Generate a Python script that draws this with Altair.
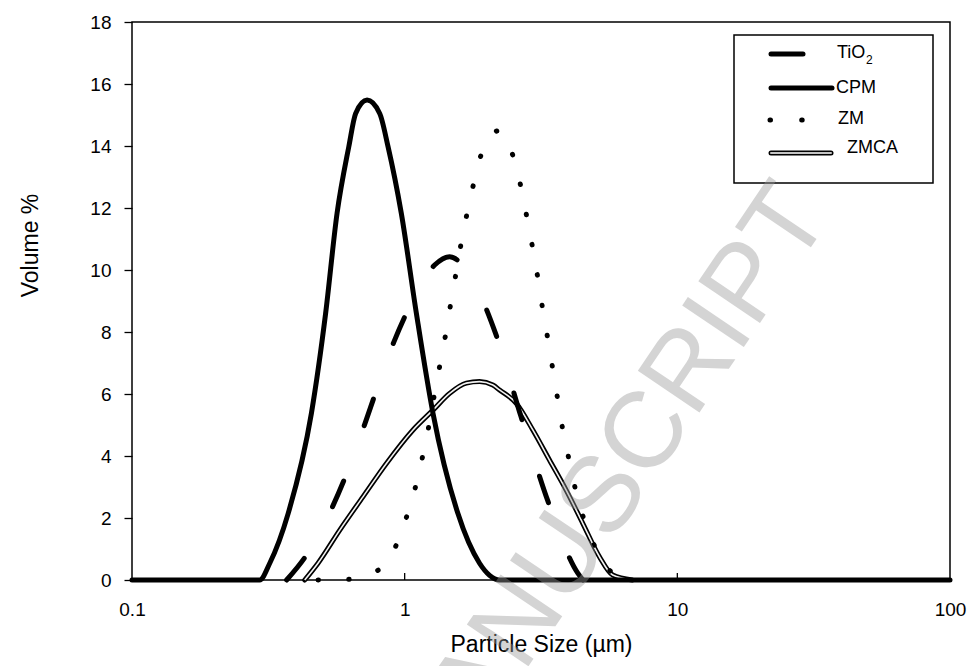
import altair as alt
import pandas as pd

# ---- data ----
cpm_x = [0.1, 0.294, 0.320, 0.374, 0.455, 0.513, 0.565, 0.624, 0.661, 0.728, 0.810,
         0.869, 0.972, 1.104, 1.27, 1.567, 1.882, 2.048, 2.228, 100]
cpm_y = [0, 0, 0.54, 2.15, 5.38, 8.60, 11.83, 13.98, 15.05, 15.48, 15.05,
         13.98, 11.83, 8.60, 5.38, 2.15, 0.54, 0.15, 0, 0]

tio_x = [0.369, 0.439, 0.546, 0.608, 0.714, 0.783, 0.914, 1.028, 1.288, 1.462, 1.683,
         2.151, 2.671, 3.35, 4.314, 4.507]
tio_y = [0, 0.84, 2.40, 3.36, 5.03, 6.05, 7.69, 8.71, 10.16, 10.43, 10.0,
         7.97, 5.27, 2.55, 0.22, 0]

zm_x = [0.481, 0.622, 0.794, 0.925, 1.014, 1.094, 1.161, 1.224, 1.281, 1.343, 1.41, 1.471,
        1.538, 1.608, 1.691, 1.789, 1.91, 2.204, 2.502, 2.667, 2.805, 2.944, 3.078, 3.204,
        3.35, 3.493, 3.644, 3.802, 4.012, 4.242, 4.564, 5.038, 5.877, 6.3]
zm_y = [0, 0.02, 0.30, 1.07, 2.01, 2.98, 3.95, 4.93, 5.91, 6.88, 7.87, 8.85,
        9.83, 10.82, 11.80, 12.77, 13.73, 14.49, 13.65, 12.69, 11.71, 10.73, 9.75, 8.76,
        7.77, 6.80, 5.81, 4.84, 3.86, 2.88, 1.91, 0.99, 0.16, 0]

zmca_x = [0.430, 0.481, 0.578, 0.704, 0.857, 1.073, 1.27, 1.462, 1.683, 1.882, 2.106,
          2.228, 2.566, 2.951, 3.397, 3.911, 4.499, 5.18, 5.794, 6.84]
zmca_y = [0, 0.54, 1.61, 2.69, 3.76, 4.84, 5.48, 6.02, 6.35, 6.40, 6.29,
          6.13, 5.70, 4.84, 3.87, 2.90, 1.83, 0.75, 0.16, 0]

x_ticks = [0.1, 1, 10, 100]
inner_ticks = [1, 10]
y_ticks = [0, 2, 4, 6, 8, 10, 12, 14, 16, 18]

W, H = 818, 558
FONT = "Liberation Sans"

def df(xs, ys):
    return pd.DataFrame({"x": xs, "v": ys})

X = alt.X("x:Q",
          scale=alt.Scale(type="log", domain=[0.1, 100], nice=False),
          axis=alt.Axis(values=x_ticks, format="~g", ticks=False, domain=False, grid=False,
                        labelFlush=False, labelOverlap=False, labelFontSize=19, labelPadding=20,
                        labelColor="black", labelFont=FONT,
                        title="Particle Size (µm)", titleFontSize=23, titleFontWeight="normal",
                        titleColor="black", titleFont=FONT, titleY=71, titleBaseline="alphabetic"))
Y = alt.Y("v:Q",
          scale=alt.Scale(domain=[0, 18], nice=False),
          axis=alt.Axis(values=y_ticks, tickSize=8, tickColor="black", tickWidth=1.3,
                        domain=False, grid=False, labelFontSize=19, labelPadding=13,
                        labelColor="black", labelFont=FONT,
                        title="Volume %", titleFontSize=23, titleFontWeight="normal",
                        titleColor="black", titleFont=FONT, titleX=-102, titleY=223,
                        titleAngle=270, titleAlign="center", titleBaseline="middle"))

one = pd.DataFrame({"a": [0]})

watermark = alt.Chart(one).mark_text(
    text="MANUSCRIPT", font=FONT, fontSize=108, angle=304, align="center",
    baseline="middle", color="#9a9a9a", opacity=0.42
).encode(x=alt.value(474), y=alt.value(472))

line_style = dict(interpolate="monotone", strokeJoin="round")

zmca_outer = alt.Chart(df(zmca_x, zmca_y)).mark_line(
    color="black", strokeWidth=5, strokeCap="round", **line_style
).encode(x=X, y=Y)
zmca_inner = alt.Chart(df(zmca_x, zmca_y)).mark_line(
    color="#f2f2f2", strokeWidth=1.6, **line_style
).encode(x=X, y=Y)

tio = alt.Chart(df(tio_x, tio_y)).mark_line(
    color="black", strokeWidth=5, strokeDash=[28, 59], strokeCap="round", **line_style
).encode(x=X, y=Y)

zm = alt.Chart(df(zm_x, zm_y)).mark_line(
    color="black", strokeWidth=5, strokeDash=[0.5, 30.2], strokeCap="round", **line_style
).encode(x=X, y=Y)

cpm = alt.Chart(df(cpm_x, cpm_y)).mark_line(
    color="black", strokeWidth=5, strokeCap="round", **line_style
).encode(x=X, y=Y)

ticks_in = alt.Chart(pd.DataFrame({"x": inner_ticks})).mark_rule(
    color="black", strokeWidth=1.3
).encode(x=X, y=alt.value(H), y2=alt.value(H - 7))

# ---- legend (drawn by hand) ----
leg_box = alt.Chart(one).mark_rect(fill="white", stroke="black", strokeWidth=1.5).encode(
    x=alt.value(602), x2=alt.value(801), y=alt.value(13), y2=alt.value(161))
leg_tio = alt.Chart(one).mark_rule(color="black", strokeWidth=5, strokeCap="round").encode(
    x=alt.value(639), x2=alt.value(671), y=alt.value(32))
leg_cpm = alt.Chart(one).mark_rule(color="black", strokeWidth=5, strokeCap="round").encode(
    x=alt.value(639), x2=alt.value(700), y=alt.value(66))
leg_zm = alt.Chart(one).mark_rule(color="black", strokeWidth=5, strokeCap="round",
                                  strokeDash=[0.5, 31.2]).encode(
    x=alt.value(638), x2=alt.value(671), y=alt.value(98))
leg_zmca_o = alt.Chart(one).mark_rule(color="black", strokeWidth=5, strokeCap="round").encode(
    x=alt.value(639), x2=alt.value(699), y=alt.value(131))
leg_zmca_i = alt.Chart(one).mark_rule(color="#c4c4c4", strokeWidth=2, strokeCap="round").encode(
    x=alt.value(639), x2=alt.value(699), y=alt.value(131))

def ltext(t, x, y, size=18):
    return alt.Chart(one).mark_text(text=t, font=FONT, fontSize=size, align="left",
                                    baseline="middle", color="black").encode(
        x=alt.value(x), y=alt.value(y))

legend = [leg_box, leg_tio, leg_cpm, leg_zm, leg_zmca_o, leg_zmca_i,
          ltext("TiO", 705, 31), ltext("2", 734, 38, 12),
          ltext("CPM", 704, 66), ltext("ZM", 706, 97), ltext("ZMCA", 715, 126)]

chart = alt.layer(
    zmca_outer, zmca_inner, tio, zm, cpm, ticks_in, *legend, watermark
).properties(
    width=W, height=H,
    autosize=alt.AutoSizeParams(type="none"),
    padding={"left": 132, "top": 22, "right": 28, "bottom": 86},
    background="white",
).configure_view(stroke="black", strokeWidth=1.5)

chart.save("out.html", embed_options={"renderer": "svg", "actions": False})
